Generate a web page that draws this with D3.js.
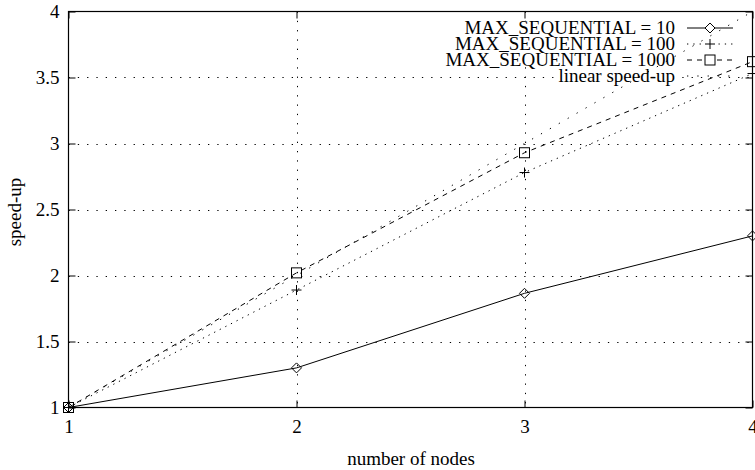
<!DOCTYPE html>
<html>
<head>
<meta charset="utf-8">
<script src="https://cdn.jsdelivr.net/npm/d3@7"></script>
<style>
  html, body { margin: 0; padding: 0; background: #fff; }
  svg { display: block; font-family: "Liberation Serif", "Times New Roman", serif; }
</style>
</head>
<body>
<svg id="chart" width="755" height="470"></svg>
<script>
// Speed-up measured for different MAX_SEQUENTIAL thresholds
const nodes = [1, 2, 3, 4];
const seq10 = [1, 1.30, 1.865, 2.30];
const seq100 = [1, 1.89, 2.78, 3.53];
const seq1000 = [1, 2.02, 2.93, 3.62];
const linearSpeedup = [1, 2, 3, 4];
const xTicks = [1, 2, 3, 4];
const yTicks = [1, 1.5, 2, 2.5, 3, 3.5, 4];
const seriesNames = ["MAX_SEQUENTIAL = 10", "MAX_SEQUENTIAL = 100", "MAX_SEQUENTIAL = 1000", "linear speed-up"];

const svg = d3.select("#chart");
const plotLeft = 68.5, plotRight = 752.5, plotTop = 11.5, plotBottom = 407.5;
const fontSize = 19;

const x = d3.scaleLinear().domain([1, 4]).range([plotLeft, plotRight]);
const y = d3.scaleLinear().domain([1, 4]).range([plotBottom, plotTop]);

const series = [
  { name: seriesNames[0], values: seq10, dash: null, marker: "diamond" },
  { name: seriesNames[1], values: seq100, dash: "1.3,5", marker: "plus" },
  { name: seriesNames[2], values: seq1000, dash: "5,5", marker: "square" },
  { name: seriesNames[3], values: linearSpeedup, dash: "1.3,9", marker: null }
];

// grid
const grid = svg.append("g").attr("stroke", "#000").attr("stroke-width", 1)
  .attr("stroke-dasharray", "1.3,8").attr("fill", "none");
grid.selectAll("line.h").data(yTicks.filter(d => d > 1 && d < 4)).join("line")
  .attr("x1", plotLeft).attr("x2", plotRight)
  .attr("y1", d => Math.round(y(d)) + 0.5).attr("y2", d => Math.round(y(d)) + 0.5);
grid.selectAll("line.v").data(xTicks.filter(d => d > 1 && d < 4)).join("line")
  .attr("y1", plotTop).attr("y2", plotBottom)
  .attr("x1", d => Math.round(x(d)) + 0.5).attr("x2", d => Math.round(x(d)) + 0.5);

// axes with mirrored inward ticks
const tickLen = 7;
const yAxisL = d3.axisLeft(y).tickValues(yTicks).tickSize(-tickLen).tickPadding(9).tickFormat(d3.format(""));
const yAxisR = d3.axisRight(y).tickValues(yTicks).tickSize(-tickLen).tickFormat("");
const xAxisB = d3.axisBottom(x).tickValues(xTicks).tickSize(-tickLen).tickPadding(12).tickFormat(d3.format("d"));
const xAxisT = d3.axisTop(x).tickValues(xTicks).tickSize(-tickLen).tickFormat("");

function styleAxis(g) {
  g.select(".domain").remove();
  g.selectAll("line").attr("stroke", "#000").attr("stroke-width", 1);
  g.selectAll("text").attr("fill", "#000").attr("font-size", fontSize)
    .attr("font-family", "Liberation Serif, serif");
}
svg.append("g").attr("transform", `translate(${plotLeft},0)`).call(yAxisL).call(styleAxis);
svg.append("g").attr("transform", `translate(${plotRight},0)`).call(yAxisR).call(styleAxis);
svg.append("g").attr("transform", `translate(0,${plotBottom})`).call(xAxisB).call(styleAxis);
svg.append("g").attr("transform", `translate(0,${plotTop})`).call(xAxisT).call(styleAxis);

// border
svg.append("rect").attr("x", plotLeft).attr("y", plotTop)
  .attr("width", plotRight - plotLeft).attr("height", plotBottom - plotTop)
  .attr("fill", "none").attr("stroke", "#000").attr("stroke-width", 1.2);

// axis titles
svg.append("text").attr("x", 411).attr("y", 465).attr("text-anchor", "middle")
  .attr("font-size", fontSize).text("number of nodes");
svg.append("text").attr("transform", "translate(21,212) rotate(-90)")
  .attr("text-anchor", "middle").attr("font-size", fontSize).text("speed-up");

// markers
function drawMarker(g, type, cx, cy) {
  const s = 5;
  if (type === "diamond") {
    g.append("path").attr("d", `M${cx},${cy - s}L${cx + s},${cy}L${cx},${cy + s}L${cx - s},${cy}Z`)
      .attr("fill", "none").attr("stroke", "#000").attr("stroke-width", 1);
  } else if (type === "plus") {
    g.append("path").attr("d", `M${cx - s},${cy}H${cx + s}M${cx},${cy - s}V${cy + s}`)
      .attr("fill", "none").attr("stroke", "#000").attr("stroke-width", 1);
  } else if (type === "square") {
    g.append("rect").attr("x", cx - s).attr("y", cy - s).attr("width", 2 * s).attr("height", 2 * s)
      .attr("fill", "none").attr("stroke", "#000").attr("stroke-width", 1);
  }
}

// legend (its text background hides the grid underneath)
const legend = svg.append("g");
const legTextX = 675, legLineX1 = 687, legLineX2 = 733;
series.forEach((s, i) => {
  const cy = 28 + i * 16;
  const t = legend.append("text").attr("x", legTextX).attr("y", cy + 6)
    .attr("text-anchor", "end").attr("font-size", fontSize).text(s.name);
  const bb = t.node().getBBox();
  legend.insert("rect", "text").attr("x", bb.x - 2).attr("y", cy - 7)
    .attr("width", bb.width + 4).attr("height", 14).attr("fill", "#fff");
  legend.append("line").attr("x1", legLineX1).attr("x2", legLineX2)
    .attr("y1", cy).attr("y2", cy).attr("stroke", "#000").attr("stroke-width", 1)
    .attr("stroke-dasharray", s.dash);
  if (s.marker) {
    legend.append("rect").attr("x", (legLineX1 + legLineX2) / 2 - 5).attr("y", cy - 5)
      .attr("width", 10).attr("height", 10).attr("fill", "#fff");
    drawMarker(legend, s.marker, (legLineX1 + legLineX2) / 2, cy);
  }
});

// data lines
const line = d3.line().x((d, i) => x(nodes[i])).y(d => y(d));
const plot = svg.append("g");
series.slice().reverse().forEach(s => {
  plot.append("path").datum(s.values).attr("d", line)
    .attr("fill", "none").attr("stroke", "#000").attr("stroke-width", 1)
    .attr("stroke-dasharray", s.dash);
  if (s.marker) {
    s.values.forEach((v, i) => drawMarker(plot, s.marker, x(nodes[i]), y(v)));
  }
});
</script>
</body>
</html>
